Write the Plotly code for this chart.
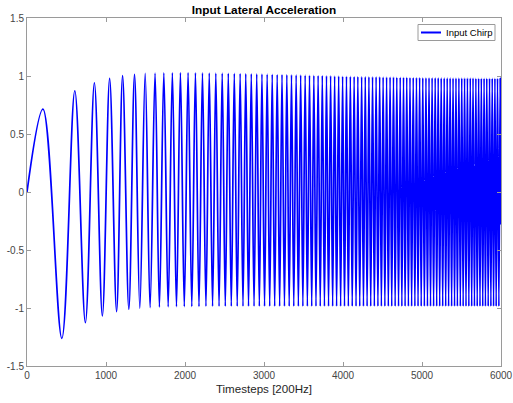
import plotly.graph_objects as go

# Input chirp: start point, successive peaks/troughs, end point
timestep = [
    0, 202, 441, 605, 739, 853, 954, 1046, 1134, 1210, 1289,
    1361, 1428, 1496, 1558, 1621, 1676, 1732, 1787, 1840, 1892,
    1942, 1991, 2039, 2086, 2132, 2177, 2221, 2265, 2307, 2349,
    2390, 2431, 2471, 2510, 2548, 2586, 2624, 2661, 2698, 2734,
    2769, 2804, 2839, 2874, 2908, 2941, 2974, 3007, 3040, 3072,
    3104, 3135, 3167, 3198, 3228, 3259, 3289, 3319, 3348, 3377,
    3407, 3435, 3464, 3492, 3521, 3549, 3576, 3604, 3631, 3658,
    3685, 3712, 3738, 3765, 3791, 3817, 3843, 3869, 3894, 3919,
    3945, 3970, 3995, 4019, 4044, 4068, 4093, 4117, 4141, 4165,
    4188, 4212, 4236, 4259, 4282, 4305, 4328, 4351, 4374, 4397,
    4419, 4442, 4464, 4486, 4508, 4530, 4552, 4574, 4596, 4617,
    4639, 4660, 4681, 4703, 4724, 4745, 4766, 4786, 4807, 4828,
    4848, 4869, 4889, 4910, 4930, 4950, 4970, 4990, 5010, 5030,
    5050, 5069, 5089, 5108, 5128, 5147, 5167, 5186, 5205, 5224,
    5243, 5262, 5281, 5300, 5319, 5337, 5356, 5375, 5393, 5412,
    5430, 5448, 5467, 5485, 5503, 5521, 5539, 5557, 5575, 5593,
    5611, 5629, 5646, 5664, 5682, 5699, 5717, 5734, 5751, 5769,
    5786, 5803, 5820, 5838, 5855, 5872, 5889, 5906, 5923, 5939,
    5956, 5973, 5990, 6000,
]

accel = [
    0.0, 0.714, -1.262, 0.873, -1.127, 0.942, -1.069, 0.980, -1.032, 1.003, -1.011,
    1.015, -1.003, 1.023, -0.997, 1.025, -0.993, 1.027, -0.990, 1.028, -0.989,
    1.029, -0.988, 1.029, -0.987, 1.028, -0.987, 1.027, -0.986, 1.026, -0.986,
    1.025, -0.986, 1.024, -0.985, 1.023, -0.985, 1.022, -0.985, 1.021, -0.985,
    1.020, -0.985, 1.019, -0.985, 1.018, -0.985, 1.017, -0.985, 1.016, -0.985,
    1.015, -0.985, 1.013, -0.985, 1.012, -0.985, 1.011, -0.985, 1.010, -0.985,
    1.009, -0.985, 1.008, -0.985, 1.007, -0.985, 1.006, -0.985, 1.005, -0.985,
    1.004, -0.985, 1.003, -0.985, 1.002, -0.985, 1.001, -0.985, 1.000, -0.985,
    0.999, -0.985, 0.998, -0.985, 0.997, -0.985, 0.996, -0.985, 0.995, -0.985,
    0.995, -0.985, 0.994, -0.985, 0.994, -0.985, 0.993, -0.985, 0.993, -0.985,
    0.992, -0.985, 0.992, -0.985, 0.991, -0.985, 0.991, -0.985, 0.990, -0.985,
    0.990, -0.985, 0.989, -0.985, 0.989, -0.985, 0.988, -0.985, 0.988, -0.985,
    0.987, -0.985, 0.987, -0.985, 0.986, -0.985, 0.986, -0.985, 0.985, -0.985,
    0.985, -0.985, 0.985, -0.985, 0.984, -0.985, 0.984, -0.985, 0.984, -0.985,
    0.983, -0.985, 0.983, -0.985, 0.983, -0.985, 0.983, -0.985, 0.982, -0.985,
    0.982, -0.985, 0.982, -0.985, 0.982, -0.985, 0.981, -0.985, 0.981, -0.985,
    0.981, -0.985, 0.981, -0.985, 0.980, -0.985, 0.980, -0.985, 0.980, -0.985,
    0.980, -0.985, 0.980, -0.985, 0.980, -0.985, 0.980, -0.985, 0.980, -0.985,
    0.980, -0.985, 0.980, -0.28,
]

series_name = "Input Chirp"
x_ticks = [0, 1000, 2000, 3000, 4000, 5000, 6000]
x_tick_labels = ["0", "1000", "2000", "3000", "4000", "5000", "6000"]
y_ticks = [-1.5, -1.0, -0.5, 0.0, 0.5, 1.0, 1.5]
y_tick_labels = ["-1.5", "-1", "-0.5", "0", "0.5", "1", "1.5"]

FONT = "Liberation Sans, Arial, Helvetica, sans-serif"
AXIS_COLOR = "#9a9a9a"
LABEL_COLOR = "#454545"
LINE_COLOR = "#0000ff"

# plot-area geometry in pixels, used to place the compact legend box
W, H = 513, 403
ML, MR, MT, MB = 27, 12, 18, 37
PW, PH = W - ML - MR, H - MT - MB


def px_x(p):
    return (p - ML) / PW


def px_y(p):
    return (H - MB - p) / PH


fig = go.Figure()
fig.add_trace(go.Scatter(
    x=timestep, y=accel, mode="lines", name=series_name, showlegend=False,
    line=dict(color=LINE_COLOR, width=1.7, shape="spline", smoothing=1),
))

axis_common = dict(
    showline=True, linecolor=AXIS_COLOR, linewidth=1, mirror="ticks",
    ticks="inside", ticklen=4, tickcolor=AXIS_COLOR, tickwidth=1,
    showgrid=False, zeroline=False, automargin=False,
    ticklabeloverflow="allow",
    tickfont=dict(family=FONT, size=10, color=LABEL_COLOR),
)

# MATLAB-style compact legend: framed box, short line sample, label
legend_shapes = [
    dict(type="rect", xref="paper", yref="paper",
         x0=px_x(418), x1=px_x(495), y0=px_y(40.5), y1=px_y(24.5),
         fillcolor="white", line=dict(color=AXIS_COLOR, width=1), layer="above"),
    dict(type="line", xref="paper", yref="paper",
         x0=px_x(421), x1=px_x(441), y0=px_y(32.5), y1=px_y(32.5),
         line=dict(color=LINE_COLOR, width=2), layer="above"),
]
legend_label = dict(
    text=series_name, xref="paper", yref="paper",
    x=px_x(444), y=px_y(32.5), xanchor="left", yanchor="middle",
    showarrow=False, font=dict(family=FONT, size=9.5, color="#000000"),
)

fig.update_layout(
    width=W, height=H,
    margin=dict(l=ML, r=MR, t=MT, b=MB),
    paper_bgcolor="white", plot_bgcolor="white",
    font=dict(family=FONT),
    title=dict(
        text="<b>Input Lateral Acceleration</b>",
        x=0.5, xref="paper", xanchor="center",
        y=1 - 10 / H, yref="container", yanchor="middle",
        font=dict(family=FONT, size=11.8, color="#000000"),
    ),
    xaxis=dict(
        range=[0, 6000], tickvals=x_ticks, ticktext=x_tick_labels,
        title=dict(text="Timesteps [200Hz]", standoff=4,
                   font=dict(family=FONT, size=11.6, color="#262626")),
        **axis_common,
    ),
    yaxis=dict(
        range=[-1.5, 1.5], tickvals=y_ticks, ticktext=y_tick_labels,
        **axis_common,
    ),
    shapes=legend_shapes,
    annotations=[legend_label],
    showlegend=False,
)

fig.write_html("out.html")
